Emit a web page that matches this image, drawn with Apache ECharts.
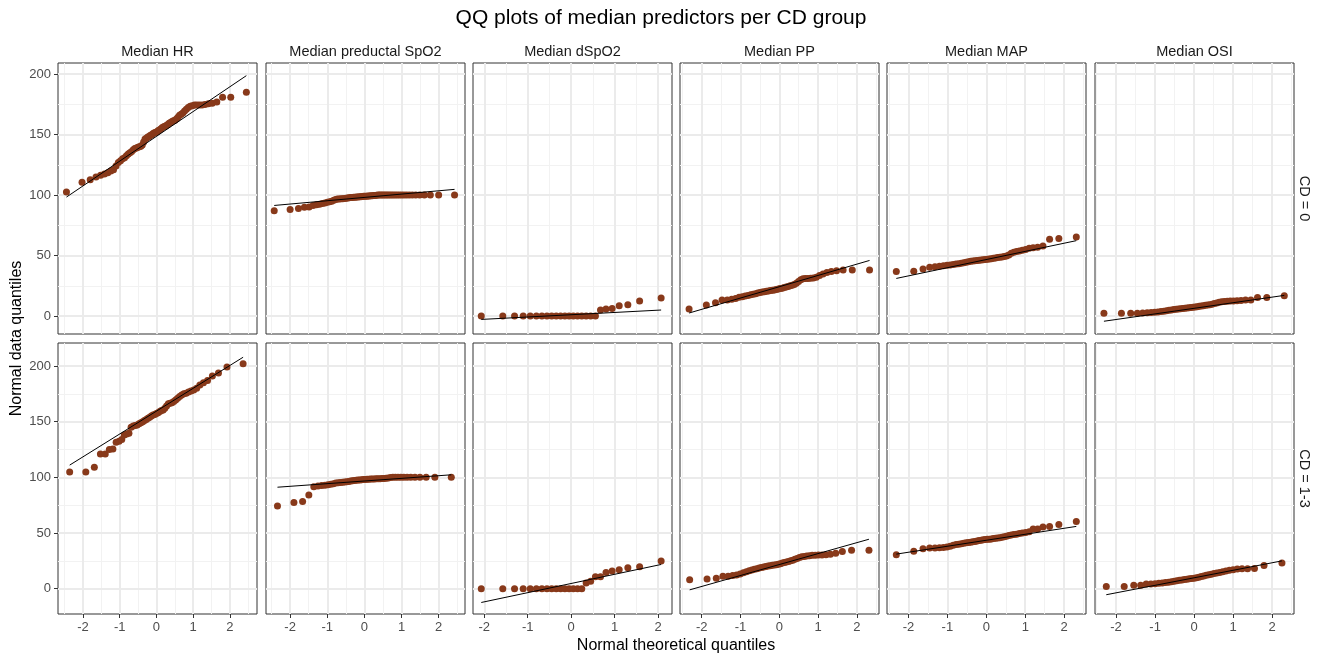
<!DOCTYPE html>
<html><head><meta charset="utf-8">
<script src="https://cdn.jsdelivr.net/npm/echarts@6/dist/echarts.min.js"></script>
<style>html,body{margin:0;padding:0;background:#fff}#c{width:1322px;height:659px}</style>
</head><body><div id="c"></div>
<script>
// ---------------- data ----------------
const variables = ['Median HR', 'Median preductal SpO2', 'Median dSpO2', 'Median PP', 'Median MAP', 'Median OSI'];
const groups = ['CD = 0', 'CD = 1-3'];
const xTicks = [-2, -1, 0, 1, 2];
const xMinorTicks = [-2.5, -1.5, -0.5, 0.5, 1.5, 2.5];
const yTicks = [0, 50, 100, 150, 200];
const yMinorTicks = [-25, 25, 75, 125, 175, 225];
const xRanges = [[-2.68, 2.74], [-2.65, 2.71], [-2.26, 2.32], [-2.56, 2.57], [-2.55, 2.56], [-2.54, 2.56]];
const yRanges = [[-14.9, 209.3], [-22.7, 220.6]];

// sorted sample values
const hrCd0 = [102.5,110.7,112.7,114.9,116.5,117.5,118.5,120,121,124, 127,128.5,130,131,132.5,134,135,136,137.5,138.5, 139,139.5,140,140.5,141.5,144,146.5,147,148,148.5, 149.5,150,151,151.5,152,152.5,153.5,154,155,156, 156.5,157,157.5,158.5,159.5,160,161,161.5,162,163, 164.5,166,167,168,169.5,171,172.5,173.5,174,174.5, 174.5,174.5,174.5,175,175.5,176,177,181,181,185];
const hrCd13 = [104.8,104.8,109,120.9,121,125,125.5,131.5,132.5,134, 138,139,139.5,145,146,146.5,147,148,149,150, 151,152,153,154,155,156,156.5,157.3,158,159, 160,160.5,162,164,166,166.5,167,168,169.5,171, 172.5,174,175,175.5,176.5,177.5,178.5,180,183,185, 187,191,193.7,199,202];
const spo2Cd0 = [87,88.2,89,90,90.2,91.5,92,92.5,93,93.5, 94,94.5,95,95.8,96.4,96.7,96.8,96.9,97,97.2, 97.4,97.6,97.8,98,98,98.2,98.3,98.5,98.5,98.6, 98.7,98.8,99,99,99.1,99.2,99.3,99.4,99.5,99.6, 99.7,99.8,100,100,100,100,100,100,100,100, 100,100,100,100,100,100,100,100,100,100, 100,100,100,100,100,100];
const spo2Cd13 = [74.3,77.3,78.2,84.2,91.6,92.2,92.6,93,93.4,93.8, 94.3,94.8,95.2,95.4,95.6,95.8,96,96.3,96.6,96.9, 97.1,97.3,97.5,97.6,97.8,98,98.1,98.2,98.3,98.4, 98.5,98.6,98.7,98.8,98.8,98.9,99,99.2,99.5,99.8, 100,100,100,100,100,100,100,100,100,100, 100,100];
const dspo2Cd0 = [0,0,0,0,0,0,0,0,0,0, 0,0,0,0,0,0,0,0,0,5.0, 5.8,6.1,8.5,9.4,12.4,14.9];
const dspo2Cd13 = [0,0,0,0,0,0,0,0,0,0, 0,0,0,0,0,0,5.1,6.6,10.7,10.7, 14.6,15.8,17.0,18.8,19.7,24.8];
const ppCd0 = [5.8,9.1,11,13.2,13.2,13.8,14.5,15.5,16,16.5, 17,17.5,18,18.5,19,19.5,19.8,20.1,20.4,20.7, 21,21.3,21.6,22,22.4,22.7,23,23.5,24,24.5, 25,25.5,26,27,28.5,30,30.8,31,31,31.2, 31.5,32,33.5,34.7,36,36.8,37.5,38,38,38];
const ppCd13 = [8.1,8.7,9.3,11.1,11.3,11.8,12.3,13.3,14.3,15.3, 16.2,16.8,17.4,18,18.5,19,19.5,19.9,20.3,20.7, 21,21.3,21.5,22,22.5,23,23.5,23.9,24.4,25, 25.6,26.4,27.2,28,28.6,29,29.4,29.7,30,30.1, 30.2,30.3,30.5,31,31.8,33.4,34.6,34.6];
const mapCd0 = [36.9,37,38.8,40.4,40.8,41.2,41.6,41.9,42.2,42.6, 43,43.3,43.6,44,44.4,44.8,45.2,45.5,45.7,45.9, 46.1,46.3,46.5,46.7,46.9,47.1,47.4,47.7,48,48.3, 48.5,48.9,49.3,49.7,50.5,52,52.8,53.3,53.8,54.3, 55,56,56.5,56.8,57.8,63.4,64.2,65.3];
const mapCd13 = [30.4,33.7,35.8,36.5,36.6,36.7,36.9,37.5,38.2,39, 39.6,40,40.4,40.8,41.2,41.5,41.8,42.1,42.5,42.9, 43.3,43.6,43.9,44.1,44.3,44.5,44.7,45,45.2,45.5, 45.8,46.2,46.7,47.2,47.7,48.2,48.6,49,49.5,50, 50.5,51.2,53.7,53.7,55.5,55.8,57.6,60.3];
const osiCd0 = [2.2,2.2,2.2,2.3,2.4,2.6,2.8,3.1,3.4,3.7, 4,4.4,4.7,5,5.3,5.6,5.8,6,6.2,6.4, 6.6,6.8,7,7.2,7.4,7.7,8,8.3,8.5,8.8, 9,9.4,9.8,10.3,10.8,11.3,11.7,11.9,12.1,12.3, 12.5,12.7,12.9,13.2,13.2,15.3,15.4,16.8];
const osiCd13 = [2.1,2.1,3.0,3.0,4.2,4.2,4.5,4.8,5.1,5.5, 5.9,6.3,6.7,7.1,7.5,7.9,8.2,8.6,8.9,9.2, 9.5,9.9,10.4,10.9,11.4,12,12.5,13,13.6,14.1, 14.6,15.3,16,16.6,17,17.6,18,18,18.2,20.9, 23];

// reference (qq) lines: [intercept, slope]
const lineCd0 = [[148.6, 20.5], [98.1, 2.74], [1.05, 1.88], [24.2, 9.35], [46.7, 6.76], [6.35, 4.63]];
const lineCd13 = [[159.4, 20.5], [96.7, 2.38], [4.7, 8.24], [21.7, 9.83], [43.5, 5.38], [9.8, 6.75]];

const panelValues = [
  [hrCd0, spo2Cd0, dspo2Cd0, ppCd0, mapCd0, osiCd0],
  [hrCd13, spo2Cd13, dspo2Cd13, ppCd13, mapCd13, osiCd13]
];
const panelLines = [lineCd0, lineCd13];

// ---------------- stat: theoretical normal quantiles ----------------
function qnorm(p) {
  const a = [-3.969683028665376e+01, 2.209460984245205e+02, -2.759285104469687e+02, 1.383577518672690e+02, -3.066479806614716e+01, 2.506628277459239e+00];
  const b = [-5.447609879822406e+01, 1.615858368580409e+02, -1.556989798598866e+02, 6.680131188771972e+01, -1.328068155288572e+01];
  const c = [-7.784894002430293e-03, -3.223964580411365e-01, -2.400758277161838e+00, -2.549732539343734e+00, 4.374664141464968e+00, 2.938163982698783e+00];
  const d = [7.784695709041462e-03, 3.224671290700398e-01, 2.445134137142996e+00, 3.754408661907416e+00];
  const pl = 0.02425, ph = 1 - pl;
  let q, r;
  if (p < pl) { q = Math.sqrt(-2 * Math.log(p)); return (((((c[0]*q+c[1])*q+c[2])*q+c[3])*q+c[4])*q+c[5]) / ((((d[0]*q+d[1])*q+d[2])*q+d[3])*q+1); }
  if (p > ph) { q = Math.sqrt(-2 * Math.log(1 - p)); return -(((((c[0]*q+c[1])*q+c[2])*q+c[3])*q+c[4])*q+c[5]) / ((((d[0]*q+d[1])*q+d[2])*q+d[3])*q+1); }
  q = p - 0.5; r = q * q;
  return (((((a[0]*r+a[1])*r+a[2])*r+a[3])*r+a[4])*r+a[5])*q / (((((b[0]*r+b[1])*r+b[2])*r+b[3])*r+b[4])*r+1);
}
function ppoints(n) {
  const a = n <= 10 ? 3 / 8 : 0.5;
  const out = [];
  for (let i = 1; i <= n; i++) out.push(qnorm((i - a) / (n + 1 - 2 * a)));
  return out;
}

// ---------------- layout ----------------
const FONT = "'Liberation Sans', Arial, Helvetica, sans-serif";
const colLeft = [58, 266, 473, 680, 887, 1095];
const rowTop = [63, 343];
const PW = 199, PH = 271;
const POINT = '#88391a';

const grid = [], xAxis = [], yAxis = [], series = [], xAxisMinor = [], yAxisMinor = [];
for (let r = 0; r < 2; r++) {
  for (let c = 0; c < 6; c++) {
    const k = r * 6 + c;
    grid.push({ left: colLeft[c], top: rowTop[r], width: PW, height: PH, show: true,
      borderColor: '#333333', borderWidth: 1, backgroundColor: '#ffffff', containLabel: false });
    const bottom = r === 1, leftCol = c === 0;
    xAxis.push({ type: 'value', gridIndex: k, min: xRanges[c][0], max: xRanges[c][1], position: 'bottom', z: 3,
      axisLine: { show: false, onZero: false },
      axisTick: { show: bottom, length: 4, inside: false, customValues: xTicks, lineStyle: { color: '#333333', width: 1 } },
      axisLabel: { show: bottom, customValues: xTicks, margin: 7, color: '#4d4d4d', fontSize: 13, fontFamily: FONT },
      splitLine: { show: true, lineStyle: { color: '#ebebeb', width: 2 } } });
    yAxis.push({ type: 'value', gridIndex: k, min: yRanges[r][0], max: yRanges[r][1], position: 'left', z: 3,
      axisLine: { show: false, onZero: false },
      axisTick: { show: leftCol, length: 4, inside: false, customValues: yTicks, lineStyle: { color: '#333333', width: 1 } },
      axisLabel: { show: leftCol, customValues: yTicks, margin: 7, color: '#4d4d4d', fontSize: 13, fontFamily: FONT },
      splitLine: { show: true, lineStyle: { color: '#ebebeb', width: 2 } } });
    xAxisMinor.push({ type: 'value', gridIndex: k, min: xRanges[c][0], max: xRanges[c][1], position: 'top', z: 2,
      axisLine: { show: false, onZero: false },
      axisTick: { show: false, customValues: xMinorTicks }, axisLabel: { show: false, customValues: xMinorTicks },
      splitLine: { show: true, lineStyle: { color: '#f2f2f2', width: 1 } } });
    yAxisMinor.push({ type: 'value', gridIndex: k, min: yRanges[r][0], max: yRanges[r][1], position: 'right', z: 2,
      axisLine: { show: false, onZero: false },
      axisTick: { show: false, customValues: yMinorTicks }, axisLabel: { show: false, customValues: yMinorTicks },
      splitLine: { show: true, lineStyle: { color: '#f2f2f2', width: 1 } } });

    const vals = panelValues[r][c];
    const qs = ppoints(vals.length);
    series.push({ type: 'scatter', xAxisIndex: k, yAxisIndex: k, symbol: 'circle', symbolSize: 7,
      itemStyle: { color: POINT, opacity: 1 }, silent: true, z: 4,
      data: vals.map((v, i) => [qs[i], v]) });
    const ln = panelLines[r][c];
    const q0 = qs[0], q1 = qs[qs.length - 1];
    series.push({ type: 'line', xAxisIndex: k, yAxisIndex: k, symbol: 'none', silent: true, z: 5,
      lineStyle: { color: '#000000', width: 1 },
      data: [[q0, ln[0] + ln[1] * q0], [q1, ln[0] + ln[1] * q1]] });
  }
}

function txt(text, x, y, size, color, rotation) {
  return { type: 'text', x: x, y: y, rotation: rotation || 0, silent: true, z: 10,
    style: { text: text, fill: color, fontSize: size, fontFamily: FONT,
      align: 'center', verticalAlign: 'middle', textAlign: 'center', textVerticalAlign: 'middle' } };
}
const graphics = [];
graphics.push(txt('QQ plots of median predictors per CD group', 661, 18, 21, '#000000'));
variables.forEach((v, c) => graphics.push(txt(v, colLeft[c] + PW / 2, 51.5, 14.5, '#1a1a1a')));
groups.forEach((g, r) => graphics.push(txt(g, 1304, rowTop[r] + PH / 2, 14.5, '#1a1a1a', -Math.PI / 2)));
graphics.push(txt('Normal theoretical quantiles', 676, 646, 16, '#000000'));
graphics.push(txt('Normal data quantiles', 17, 338.5, 16, '#000000', Math.PI / 2));

const chart = echarts.init(document.getElementById('c'), null, { renderer: 'canvas' });
chart.setOption({
  animation: false,
  backgroundColor: '#ffffff',
  grid: grid,
  xAxis: xAxis.concat(xAxisMinor),
  yAxis: yAxis.concat(yAxisMinor),
  series: series,
  graphic: graphics
});
</script></body></html>
